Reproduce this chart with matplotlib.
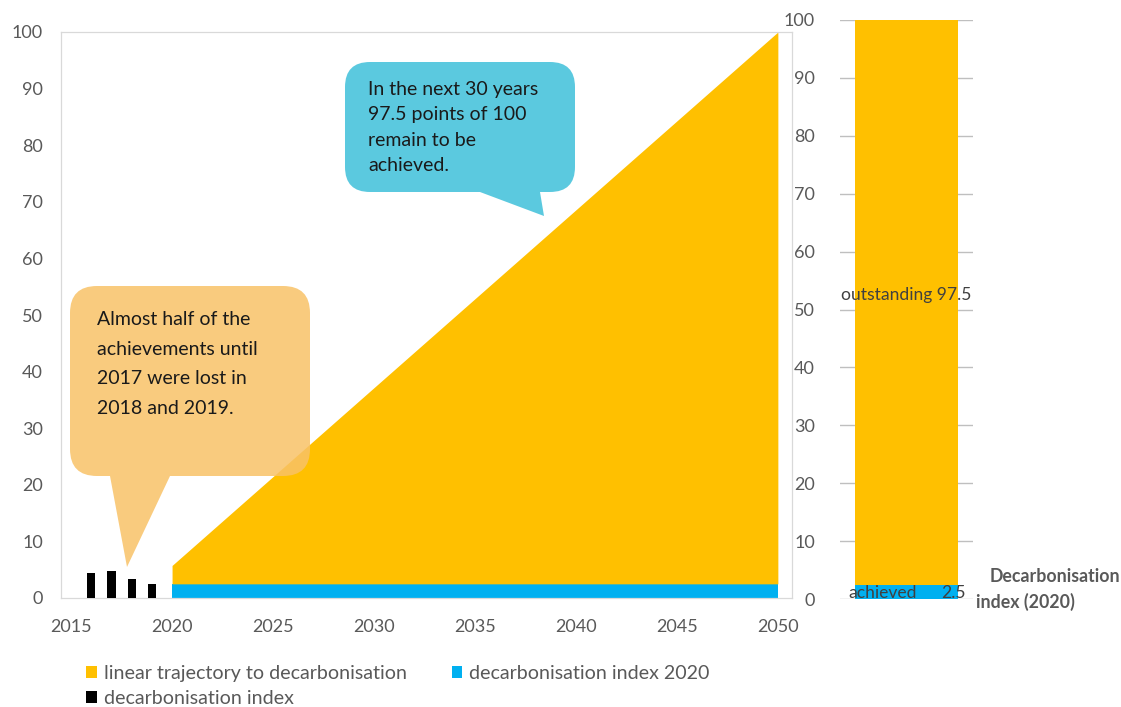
import matplotlib
matplotlib.use("Agg")
import matplotlib.pyplot as plt
from matplotlib.path import Path
from matplotlib.patches import PathPatch, Patch

plt.rcParams['font.family'] = ['Lato', 'DejaVu Sans']

# ---------------- data ----------------
index_years = [2016, 2017, 2018, 2019]
index_values = [4.4, 4.7, 3.3, 2.5]

traj_years = [2020, 2050]
index_2020 = [2.5, 2.5]
trajectory = [3.25, 97.5]          # stacked on top of index_2020

achieved = 2.5
outstanding = 97.5
bar_category = ["Decarbonisation\nindex (2020)"]

x_ticks = [2015, 2020, 2025, 2030, 2035, 2040, 2045, 2050]
y_ticks = [0, 10, 20, 30, 40, 50, 60, 70, 80, 90, 100]

YELLOW = '#FFC000'
BLUE = '#00B0F0'
BLACK = '#000000'
GRAY_TXT = '#595959'

W, H = 1121, 707
fig = plt.figure(figsize=(W / 100, H / 100), dpi=100)


def fx(px):
    return px / W


def fy(py):
    return 1 - py / H


# ---------------- left panel ----------------
ax = fig.add_axes([fx(61), fy(598), fx(792) - fx(61), fy(32) - fy(598)])
ax.bar(index_years, index_values, width=0.41, color=BLACK, zorder=3)
upper = [a + b for a, b in zip(index_2020, trajectory)]
ax.fill_between(traj_years, 0, index_2020, color=BLUE, lw=0, zorder=2)
ax.fill_between(traj_years, index_2020, upper, color=YELLOW, lw=0, zorder=2)
ax.set_xlim(2014.5, 2050.7)
ax.set_ylim(0, 100)
ax.set_xticks(x_ticks)
ax.set_yticks(y_ticks)
ax.tick_params(length=0, labelsize=13, labelcolor=GRAY_TXT)
ax.tick_params(axis='y', pad=13)
ax.tick_params(axis='x', pad=15)
for s in ax.spines.values():
    s.set_color('#D9D9D9')
    s.set_linewidth(0.9)

# ---------------- right panel ----------------
ax2 = fig.add_axes([fx(840), fy(599), fx(973) - fx(840), fy(20) - fy(599)])
ax2.bar([0], [achieved], width=1.0, color=BLUE, zorder=3)
ax2.bar([0], [outstanding], bottom=[achieved], width=1.0, color=YELLOW, zorder=3)
ax2.set_xlim(-0.65, 0.65)
ax2.set_ylim(0, 100)
ax2.set_yticks(y_ticks)
ax2.set_xticks([])
ax2.grid(axis='y', color='#BFBFBF', lw=1.0, zorder=0)
ax2.set_axisbelow(True)
for s in ax2.spines.values():
    s.set_visible(False)
ax2.tick_params(length=0, labelsize=13, labelcolor=GRAY_TXT, pad=18)
ax2.text(0, achieved + outstanding / 2 + 1.3, "outstanding 97.5", ha='center', va='center',
         fontsize=12.6, color='#404040', zorder=5)
ax2.text(-0.57, 1.0, "achieved", ha='left', va='center', fontsize=12.6, color='#404040', zorder=5)
ax2.text(0.575, 1.0, "2.5", ha='right', va='center', fontsize=12.6, color='#404040', zorder=5)

fig.text(fx(990), fy(576), bar_category[0].split("\n")[0], ha='left', va='center',
         fontsize=12.8, fontweight='bold', color=GRAY_TXT)
fig.text(fx(976), fy(602), bar_category[0].split("\n")[1], ha='left', va='center',
         fontsize=12.8, fontweight='bold', color=GRAY_TXT)


# ---------------- callouts ----------------
def callout(x0, y0, x1, y1, r, tail_l, tail_r, tip, **kw):
    """rounded rect (pixel coords, y down) with tail on bottom edge"""
    P = lambda x, y: (fx(x), fy(y))
    verts = [P(x0 + r, y1), P(tail_l, y1), P(*tip), P(tail_r, y1), P(x1 - r, y1),
             P(x1, y1), P(x1, y1 - r),
             P(x1, y0 + r),
             P(x1, y0), P(x1 - r, y0),
             P(x0 + r, y0),
             P(x0, y0), P(x0, y0 + r),
             P(x0, y1 - r),
             P(x0, y1), P(x0 + r, y1),
             P(x0 + r, y1)]
    codes = [Path.MOVETO, Path.LINETO, Path.LINETO, Path.LINETO, Path.LINETO,
             Path.CURVE3, Path.CURVE3,
             Path.LINETO,
             Path.CURVE3, Path.CURVE3,
             Path.LINETO,
             Path.CURVE3, Path.CURVE3,
             Path.LINETO,
             Path.CURVE3, Path.CURVE3,
             Path.CLOSEPOLY]
    patch = PathPatch(Path(verts, codes), transform=fig.transFigure, lw=0, **kw)
    fig.patches.append(patch)


callout(70, 286, 310, 476, 27, 110, 170, (127, 567), facecolor='#F8C267', alpha=0.85, zorder=10)
callout(345, 62, 575, 192, 25, 480, 540, (544, 216), facecolor='#5BC9DF', zorder=10)

orange_lines = ["Almost half of the", "achievements until", "2017 were lost in", "2018 and 2019."]
for i, t in enumerate(orange_lines):
    fig.text(fx(97), fy(325 + 29.5 * i), t, ha='left', va='baseline', fontsize=14,
             color='#1A1A1A', zorder=11)

cyan_lines = ["In the next 30 years", "97.5 points of 100", "remain to be", "achieved."]
for i, t in enumerate(cyan_lines):
    fig.text(fx(368), fy(95 + 25.3 * i), t, ha='left', va='baseline', fontsize=14,
             color='#1A1A1A', zorder=11)

# ---------------- legend ----------------
handles = [Patch(facecolor=YELLOW, label='linear trajectory to decarbonisation'),
           Patch(facecolor=BLACK, label='decarbonisation index'),
           Patch(facecolor=BLUE, label='decarbonisation index 2020')]
fig.legend(handles=handles, ncol=2, loc='upper left', bbox_to_anchor=(fx(86), fy(665)),
           frameon=False, fontsize=14.1, labelcolor=GRAY_TXT, handlelength=0.55,
           handleheight=0.55, handletextpad=0.35, columnspacing=2.3, labelspacing=0.4,
           borderaxespad=0, borderpad=0)

fig.savefig("out.png", dpi=100)
